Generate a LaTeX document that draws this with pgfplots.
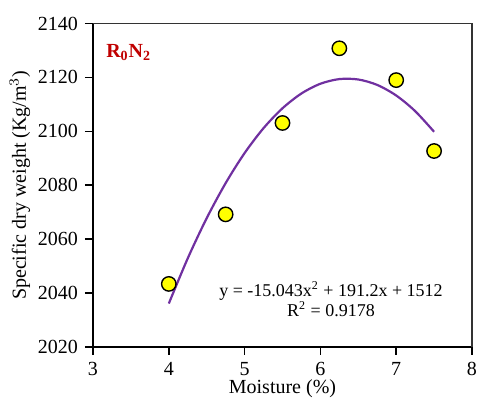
\documentclass[border=0pt]{standalone}
\usepackage{fontspec}
\setmainfont{Liberation Serif}
\usepackage{pgfplots}
\pgfplotsset{compat=1.18}
\definecolor{trend}{HTML}{7030A0}
\definecolor{dotfill}{HTML}{FFFF00}
\definecolor{tagred}{HTML}{C00000}

\begin{document}
\begin{tikzpicture}
\begin{axis}[
    scale only axis,
    width=189.5pt, height=161.75pt,
    xmin=3, xmax=8, ymin=2020, ymax=2140,
    xtick={3,4,5,6,7,8},
    ytick={2020,2040,2060,2080,2100,2120,2140},
    tick align=outside,
    tick pos=left,
    major tick length=4pt,
    tick style={black, line width=0.8pt},
    /pgf/number format/assume math mode=true,
    /pgf/number format/set thousands separator={},
    tick label style={font=\normalsize, black},
    xlabel={Moisture (\%)},
    ylabel={Specific dry weight (Kg/m$^3$)},
    label style={font=\normalsize},
    xlabel style={yshift=5pt},
    ylabel style={yshift=-3pt},
    axis x line*=bottom, axis y line*=left,
    axis line style={black, line width=0.9pt},
    clip=false,
]
% frame on top and right
\draw[black!80, line width=0.6pt] (axis cs:3,2140) -- (axis cs:8,2140) -- (axis cs:8,2020);
\addplot[trend, line width=1.1pt, smooth] coordinates {
    (4,2036.11) (4.25,2052.89) (4.5,2067.78) (4.75,2080.79) (5,2091.93)
    (5.25,2101.18) (5.5,2108.55) (5.75,2114.04) (6,2117.65) (6.25,2119.38)
    (6.5,2119.23) (6.75,2117.21) (7,2113.29) (7.25,2107.50) (7.5,2099.83)
};
\addplot[only marks, mark=*, mark size=3.6pt,
    mark options={fill=dotfill, draw=black, line width=0.7pt}] coordinates {
    (4,2043.4) (4.75,2069.2) (5.5,2103.1) (6.25,2130.8) (7,2119.0) (7.5,2092.7)
};
\node[anchor=base west, font=\bfseries\normalsize, text=tagred, inner sep=0pt]
    at (axis cs:3.17,2127.5) {R$_{\mathbf{0}}$N$_{\mathbf{2}}$};
\node[align=center, font=\small, inner sep=0pt, anchor=north]
    at (axis cs:6.14,2044.6) {y = -15.043x\textsuperscript{2} + 191.2x + 1512\\[-1pt] R\textsuperscript{2} = 0.9178};
\end{axis}
\pgfresetboundingbox
\useasboundingbox (-46.5pt,-27pt) rectangle (192.5pt,173.5pt);
\end{tikzpicture}
\end{document}
